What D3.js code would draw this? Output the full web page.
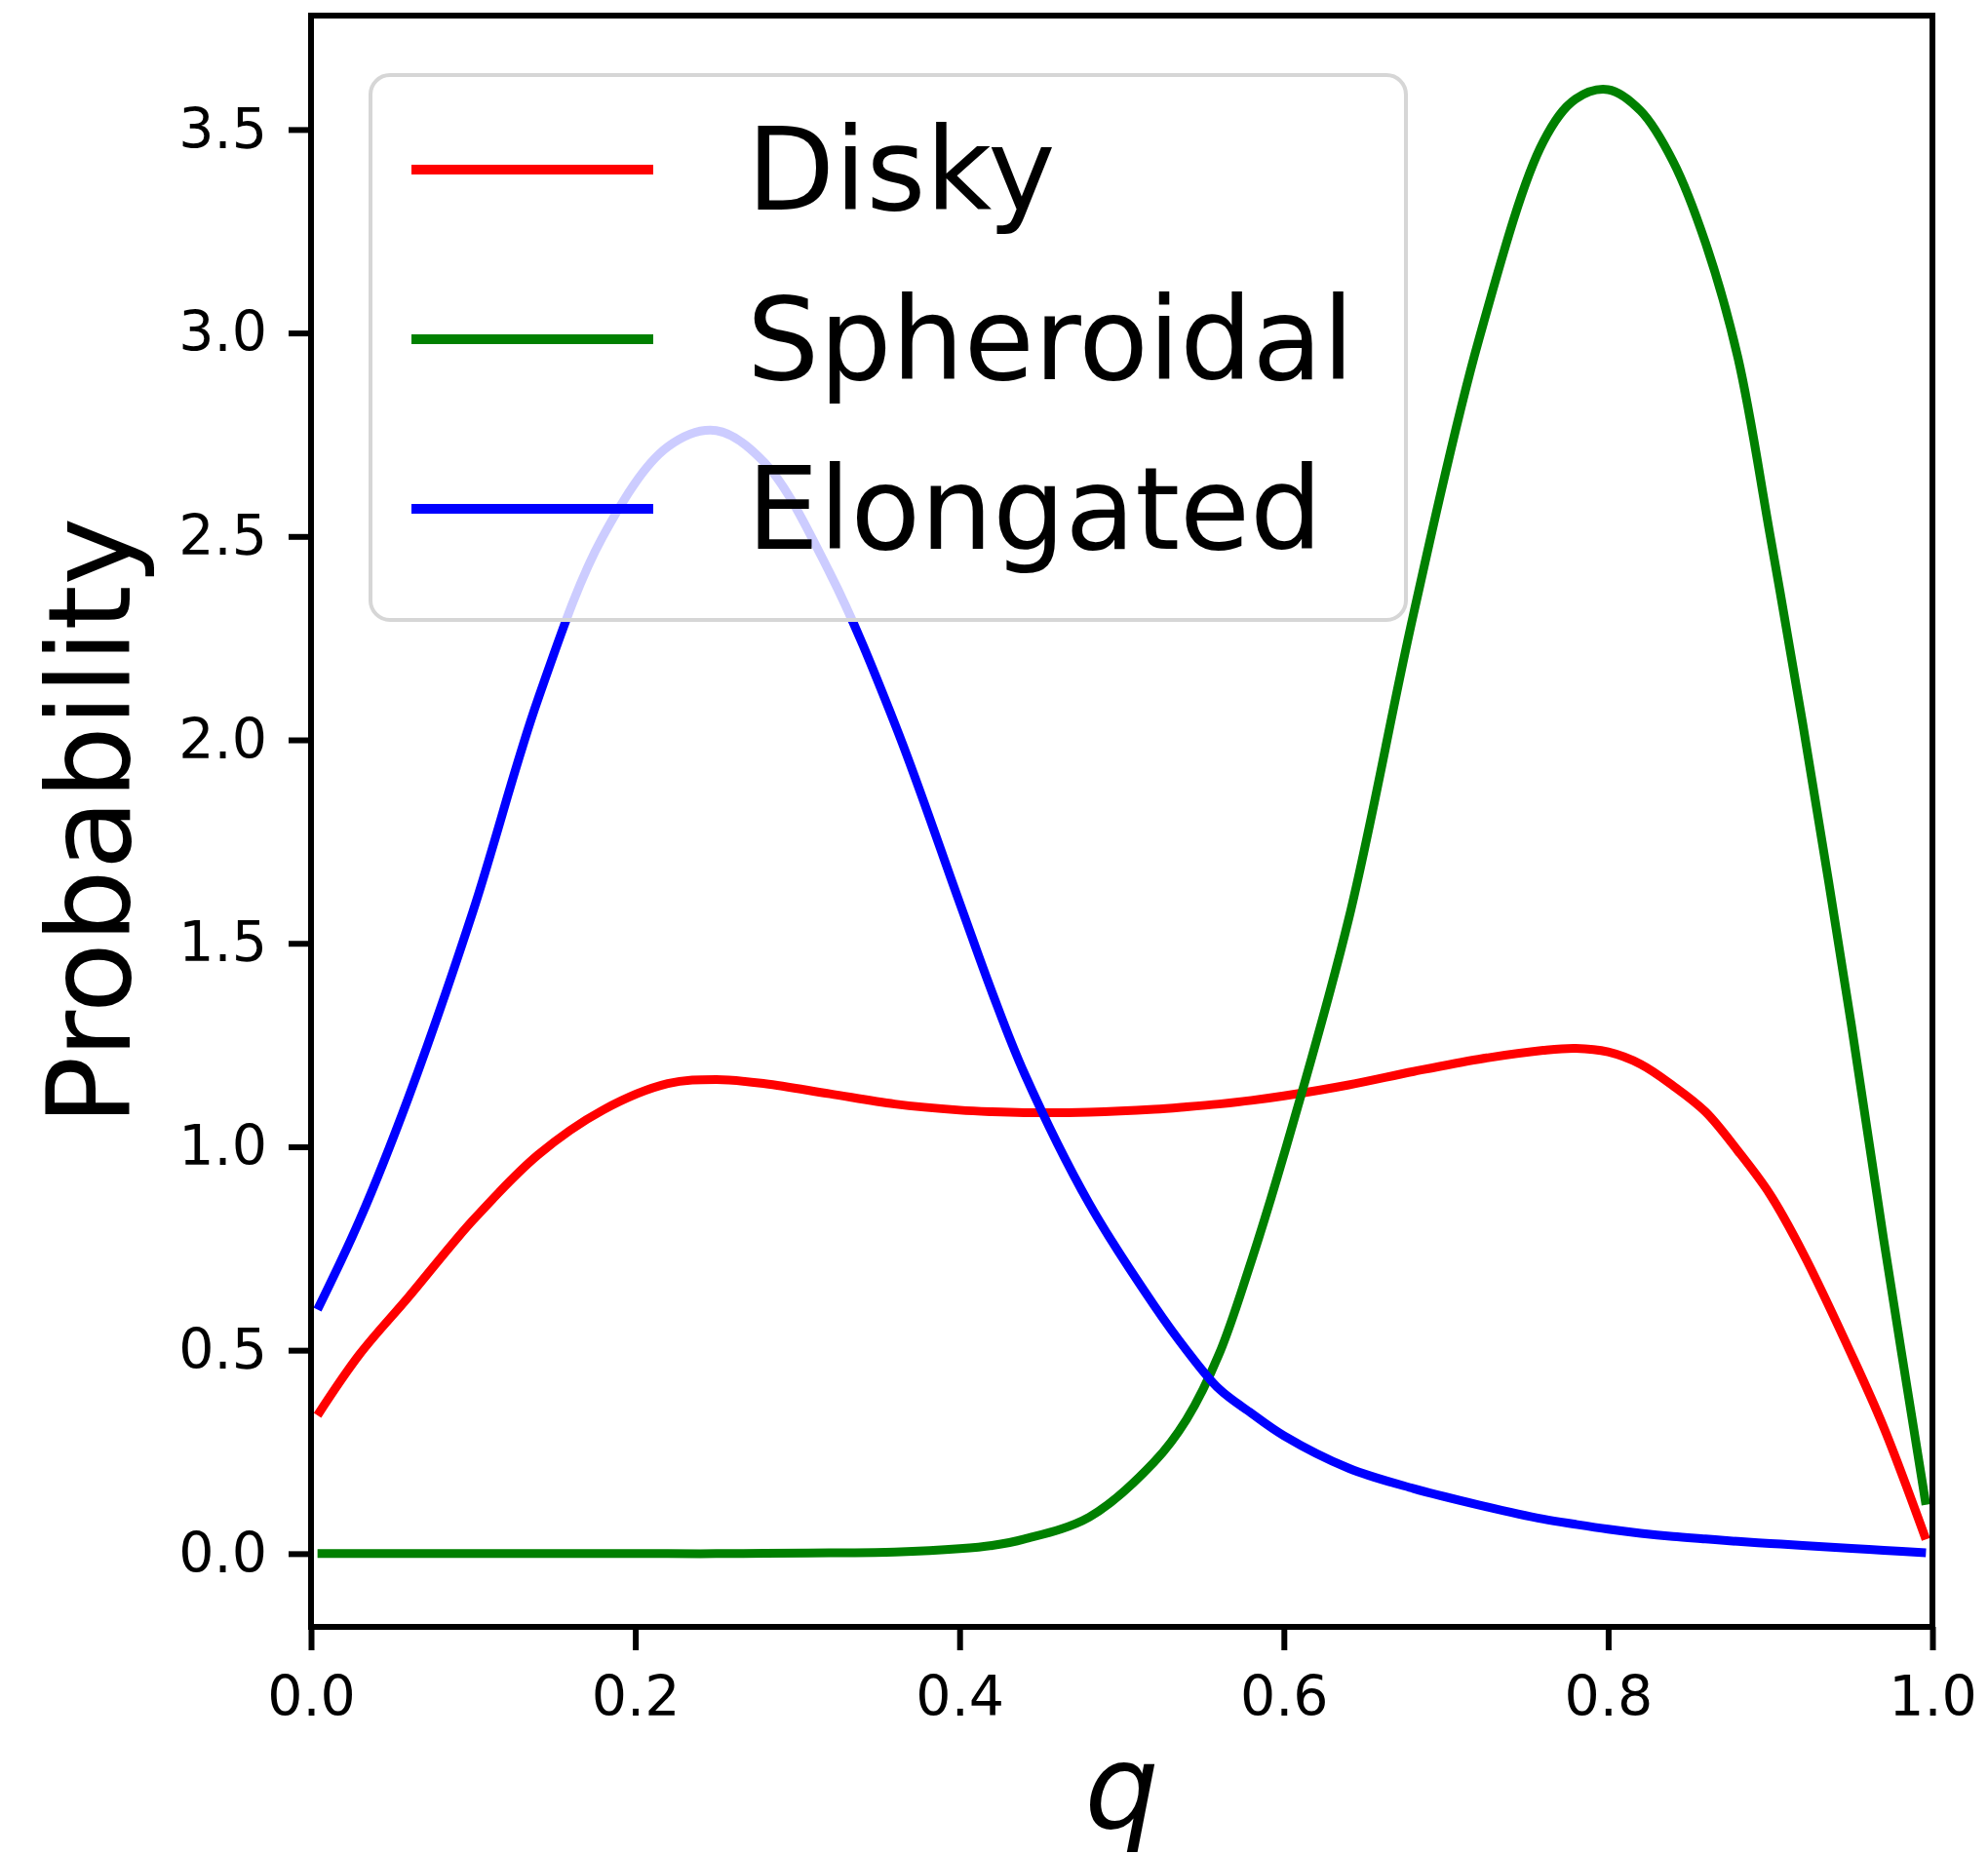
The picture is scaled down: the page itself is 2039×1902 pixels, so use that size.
<!DOCTYPE html>
<html lang="en">
<head>
  <meta charset="UTF-8">
  <title>Axis ratio probability</title>
  <script src="https://d3js.org/d3.v7.min.js"></script>
  <style>
    body {
      margin: 0;
      background: #fff;
      font-family: 'DejaVu Sans', sans-serif;
    }
    .line {
      fill: none;
      stroke-width: 9;
    }
    .tick-label {
      font-size: 57px;
      fill: #000;
    }
  </style>
</head>
<body>
  <svg width="2039" height="1902"></svg>
  <script>
    // q values shared by all three curves
    const qValues = [0.004, 0.03, 0.06, 0.1, 0.14, 0.18, 0.22, 0.25, 0.28, 0.32, 0.36, 0.4, 0.42, 0.44,
      0.48, 0.52, 0.54, 0.56, 0.58, 0.6, 0.64, 0.68, 0.72, 0.76, 0.78, 0.8, 0.82, 0.84, 0.86, 0.88, 0.9,
      0.92, 0.95, 0.97, 0.996];

    const disky = [0.34, 0.49, 0.63, 0.82, 0.98, 1.09, 1.155, 1.165, 1.155, 1.13, 1.105, 1.09, 1.086, 1.084,
      1.085, 1.092, 1.098, 1.105, 1.114, 1.125, 1.152, 1.185, 1.215, 1.237, 1.242, 1.233, 1.203, 1.15, 1.086, 0.99, 0.882,
      0.74, 0.49, 0.31, 0.035];

    const spheroidal = [0, 0, 0, 0, 0, 0, 0, 0, 0.001, 0.002, 0.004, 0.012, 0.02, 0.036,
      0.09, 0.225, 0.33, 0.49, 0.72, 0.98, 1.56, 2.31, 2.98, 3.47, 3.575, 3.598, 3.546, 3.422, 3.222, 2.94, 2.50,
      2.04, 1.30, 0.77, 0.12];

    const elongated = [0.60, 0.82, 1.12, 1.58, 2.10, 2.50, 2.72, 2.76, 2.68, 2.41, 2.04, 1.60, 1.38, 1.18,
      0.86, 0.61, 0.50, 0.405, 0.345, 0.29, 0.21, 0.16, 0.12, 0.085, 0.072, 0.06, 0.05, 0.042, 0.036, 0.03, 0.025,
      0.02, 0.013, 0.008, 0.002];

    const seriesNames = ["Disky", "Spheroidal", "Elongated"];
    const seriesColors = ["#ff0000", "#008000", "#0000ff"];
    const seriesValues = [disky, spheroidal, elongated];

    const xTicks = [0, 0.2, 0.4, 0.6, 0.8, 1.0];
    const yTicks = [0, 0.5, 1.0, 1.5, 2.0, 2.5, 3.0, 3.5];

    const svg = d3.select("svg");
    const margin = { top: 16, right: 57, bottom: 233, left: 319 };
    const width = svg.attr("width") - margin.left - margin.right;
    const height = svg.attr("height") - margin.top - margin.bottom;
    const g = svg.append("g").attr("transform", `translate(${margin.left},${margin.top})`);

    const x = d3.scaleLinear().domain([0, 1]).range([0, width]);
    const y = d3.scaleLinear().domain([-0.18, 3.78]).range([height, 0]);

    const line = d3.line()
      .x(d => x(d.q))
      .y(d => y(d.p))
      .curve(d3.curveCatmullRom.alpha(0.5));

    // curves
    seriesValues.forEach((vals, i) => {
      const data = qValues.map((q, j) => ({ q: q, p: vals[j] }));
      g.append("path")
        .datum(data)
        .attr("class", "line")
        .attr("stroke", seriesColors[i])
        .attr("d", line);
    });

    // axes
    const xAxis = d3.axisBottom(x).tickValues(xTicks).tickFormat(d3.format(".1f"))
      .tickSize(24).tickPadding(16);
    const yAxis = d3.axisLeft(y).tickValues(yTicks).tickFormat(d3.format(".1f"))
      .tickSize(23).tickPadding(22);

    const gx = g.append("g").attr("transform", `translate(0,${height})`).call(xAxis);
    const gy = g.append("g").call(yAxis);
    [gx, gy].forEach(ax => {
      ax.select(".domain").remove();
      ax.selectAll(".tick line").attr("stroke", "#000").attr("stroke-width", 6);
      ax.selectAll(".tick text").attr("class", "tick-label")
        .style("font-family", "'DejaVu Sans', sans-serif");
    });
    gx.selectAll(".tick text").attr("dy", "0.9em");

    // frame
    g.append("rect")
      .attr("width", width)
      .attr("height", height)
      .attr("fill", "none")
      .attr("stroke", "#000")
      .attr("stroke-width", 6);

    // legend
    const legend = g.append("g").attr("transform", `translate(${380 - margin.left},${77 - margin.top})`);
    legend.append("rect")
      .attr("width", 1062)
      .attr("height", 559)
      .attr("rx", 20)
      .attr("fill", "#fff")
      .attr("fill-opacity", 0.8)
      .attr("stroke", "#d6d6d6")
      .attr("stroke-width", 4);

    seriesNames.forEach((name, i) => {
      const ly = 97 + i * 174;
      legend.append("line")
        .attr("x1", 42).attr("x2", 290)
        .attr("y1", ly).attr("y2", ly)
        .attr("stroke", seriesColors[i])
        .attr("stroke-width", 10);
      legend.append("text")
        .attr("x", 386)
        .attr("y", ly + 41)
        .style("font-size", "117px")
        .text(name);
    });

    // axis titles
    svg.append("text")
      .attr("transform", `translate(133,${margin.top + height / 2}) rotate(-90)`)
      .attr("text-anchor", "middle")
      .style("font-size", "118px")
      .text("Probability");

    svg.append("text")
      .attr("x", margin.left + width / 2)
      .attr("y", 1875)
      .attr("text-anchor", "middle")
      .style("font-size", "120px")
      .style("font-style", "italic")
      .text("q");
  </script>
</body>
</html>
